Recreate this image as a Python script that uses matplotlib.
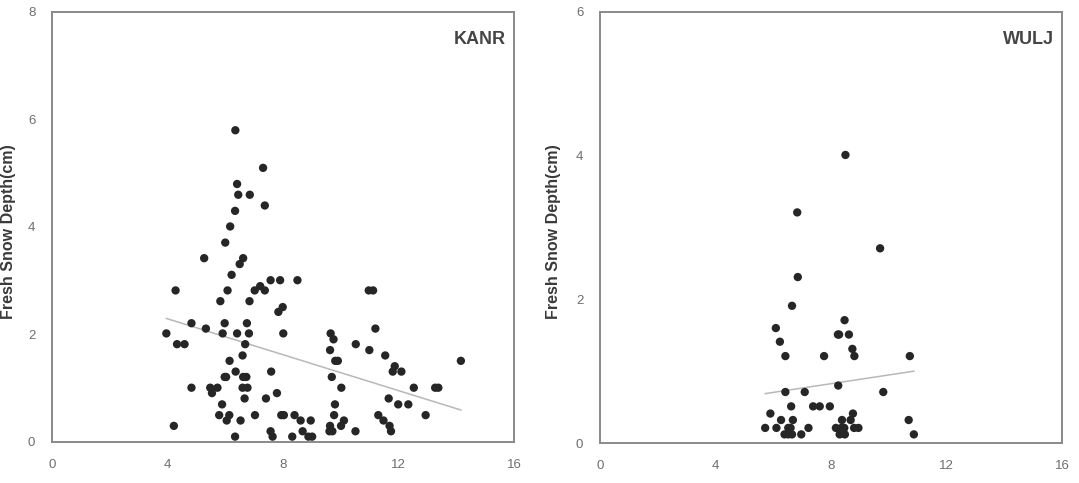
import matplotlib
matplotlib.use("Agg")
import matplotlib.pyplot as plt
import numpy as np

# ---- data ----
kanr_x = [6.35, 7.31, 6.41, 6.45, 6.85, 7.37, 6.34, 6.17, 6.00, 5.27, 6.62, 6.50, 6.22,
          7.57, 7.90, 8.50, 4.28, 6.08, 7.02, 7.21, 7.37, 10.97, 11.12, 5.83, 6.84, 7.99,
          7.84, 4.83, 5.98, 6.75, 5.33, 11.20, 3.96, 5.91, 6.41, 6.82, 8.01, 9.65, 9.75,
          4.33, 4.59, 6.69, 10.52, 6.60, 9.63, 10.99, 11.54, 6.15, 9.81, 9.90, 11.87, 14.16,
          11.80, 12.10, 7.59, 6.36, 5.98, 6.03, 6.62, 6.73, 9.69, 4.83, 5.48, 5.73, 6.60,
          6.77, 10.02, 12.53, 13.27, 13.38, 5.54, 7.79, 6.67, 7.41, 11.66, 5.89, 9.80, 11.99,
          12.34, 5.79, 6.14, 7.03, 7.94, 8.03, 8.40, 9.77, 11.30, 12.94, 6.05, 6.53, 8.61,
          8.96, 10.11, 11.48, 4.22, 9.63, 10.01, 11.69, 8.68, 9.61, 9.71, 10.51, 11.74, 7.57,
          6.34, 7.64, 8.32, 8.88, 9.01]
kanr_y = [5.80, 5.10, 4.80, 4.60, 4.60, 4.40, 4.30, 4.01, 3.71, 3.42, 3.42, 3.31, 3.11,
          3.01, 3.01, 3.01, 2.82, 2.82, 2.82, 2.90, 2.82, 2.82, 2.82, 2.62, 2.62, 2.51,
          2.42, 2.21, 2.21, 2.21, 2.11, 2.11, 2.02, 2.02, 2.02, 2.02, 2.02, 2.02, 1.91,
          1.82, 1.82, 1.82, 1.82, 1.61, 1.71, 1.71, 1.61, 1.51, 1.51, 1.51, 1.41, 1.51,
          1.31, 1.31, 1.31, 1.31, 1.21, 1.21, 1.21, 1.21, 1.21, 1.01, 1.01, 1.01, 1.01,
          1.01, 1.01, 1.01, 1.01, 1.01, 0.91, 0.91, 0.81, 0.81, 0.81, 0.70, 0.70, 0.70,
          0.70, 0.50, 0.50, 0.50, 0.50, 0.50, 0.50, 0.50, 0.50, 0.50, 0.40, 0.40, 0.40,
          0.40, 0.40, 0.40, 0.30, 0.30, 0.30, 0.30, 0.20, 0.20, 0.20, 0.20, 0.20, 0.20,
          0.10, 0.10, 0.10, 0.10, 0.10]

wulj_x = [8.50, 6.83, 9.70, 6.85, 6.65, 6.09, 8.47, 6.23, 8.24, 8.28, 8.62, 8.74, 8.81,
          6.42, 7.76, 10.73, 8.25, 6.42, 7.09, 9.81, 6.62, 7.38, 7.61, 7.96, 5.90, 8.76,
          6.27, 6.68, 8.38, 8.68, 10.69, 5.72, 6.11, 6.52, 7.22, 8.17, 8.46, 8.80, 8.95,
          6.39, 6.52, 6.65, 6.97, 8.30, 8.48, 10.87, 6.60, 8.36]
wulj_y = [4.01, 3.21, 2.71, 2.31, 1.91, 1.60, 1.71, 1.41, 1.51, 1.51, 1.51, 1.31, 1.21,
          1.21, 1.21, 1.21, 0.80, 0.71, 0.71, 0.71, 0.51, 0.51, 0.51, 0.51, 0.41, 0.41,
          0.32, 0.32, 0.32, 0.32, 0.32, 0.21, 0.21, 0.21, 0.21, 0.21, 0.21, 0.21, 0.21,
          0.12, 0.12, 0.12, 0.12, 0.12, 0.12, 0.12, 0.21, 0.21]

# trend lines (slope, intercept)
kanr_trend = [-0.167, 2.96]
wulj_trend = [0.0607, 0.340]

stations = ["KANR", "WULJ"]
y_max = [8, 6]
x_ticks = [0, 4, 8, 12, 16]
y_ticks = [[0, 2, 4, 6, 8], [0, 2, 4, 6]]
ylabel = "Fresh Snow Depth(cm)"

plt.rcParams['font.family'] = ['Liberation Sans', 'DejaVu Sans']

fig = plt.figure(figsize=(10.79, 4.83), dpi=100)
W, H = 1079, 483
boxes = [(52, 12, 514, 442), (600, 12, 1062, 443)]
label_x = [16, 561]
datasets = [(kanr_x, kanr_y, kanr_trend), (wulj_x, wulj_y, wulj_trend)]

for i, (box, (xs, ys, tr)) in enumerate(zip(boxes, datasets)):
    x0, y0, x1, y1 = box
    ax = fig.add_axes([x0 / W, 1 - y1 / H, (x1 - x0) / W, (y1 - y0) / H])
    ax.scatter(xs, ys, s=36, color='#262626', edgecolors='none', zorder=3)
    xx = np.array([min(xs), max(xs)])
    ax.plot(xx, tr[0] * xx + tr[1], color='#b8b8b8', lw=1.1, zorder=2)
    ax.set_xlim(0, 16)
    ax.set_ylim(0, y_max[i])
    ax.set_xticks(x_ticks)
    ax.set_yticks(y_ticks[i])
    ax.tick_params(length=0, labelsize=9.5, labelcolor='#6e6e6e', pad=12)
    for sp in ax.spines.values():
        sp.set_color('#8a8a8a')
        sp.set_linewidth(1.4)
    ax.set_ylabel(ylabel, fontsize=11.5, fontweight='bold', color='#3a3a3a')
    ax.yaxis.set_label_coords((label_x[i] - x0) / (x1 - x0), 0.49)
    ax.text(0.982, 0.955, stations[i], transform=ax.transAxes, ha='right', va='top',
            fontsize=13, fontweight='bold', color='#454545')

fig.savefig("out.png", dpi=100)
